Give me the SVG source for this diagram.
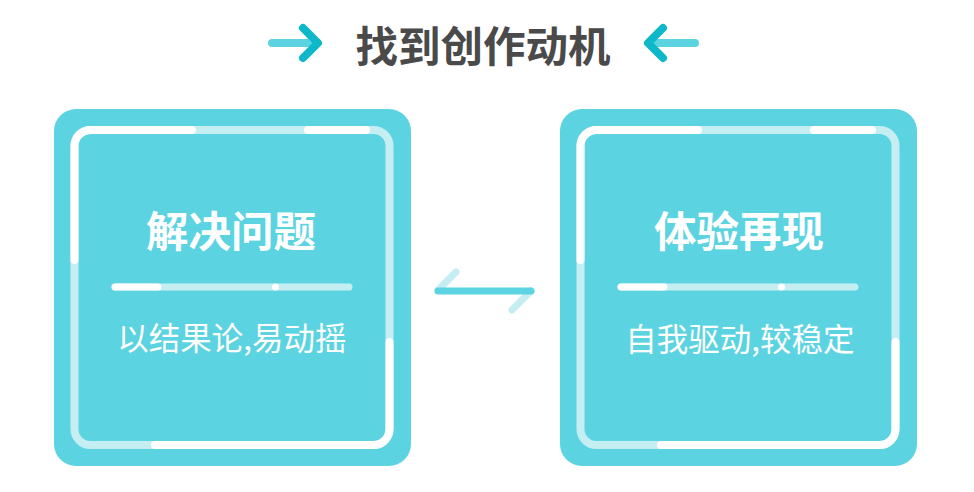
<svg xmlns="http://www.w3.org/2000/svg" width="974" height="492" viewBox="0 0 974 492">
<style>
.box{fill:#5cd3e1}
.ring{fill:none;stroke:#c5eef3;stroke-width:8}
.hi{fill:none;stroke:#ffffff;stroke-width:8;stroke-linecap:round;stroke-linejoin:round}
.dl{stroke:#c5eef3;stroke-width:7;stroke-linecap:round}
.dw{stroke:#ffffff;stroke-width:7;stroke-linecap:round}
.t{font-family:"Noto Sans CJK SC","Noto Sans",sans-serif;fill:#ffffff;text-anchor:middle}
.h{font-size:42.5px;font-weight:bold}
.s{font-size:31.5px}
.title{font-family:"Noto Sans CJK SC","Noto Sans",sans-serif;font-size:42.5px;font-weight:bold;fill:#4a4a4a;text-anchor:middle}
.tail{stroke:#5cd3e1;stroke-width:8;stroke-linecap:round;fill:none}
.head{stroke:#0fb8c9;stroke-width:8;stroke-linecap:round;stroke-linejoin:round;fill:none}
</style>
<g id="header">
<line class="tail" x1="272" y1="43" x2="312" y2="43"/>
<polyline class="head" points="303,28 318,43 303,58"/>
<text class="title" x="483" y="62">找到创作动机</text>
<line class="tail" x1="655" y1="43" x2="695" y2="43"/>
<polyline class="head" points="663,28 648,43 663,58"/>
</g>
<g id="node-left">
<rect class="box" x="54" y="109" width="357" height="357" rx="22"/>
<rect class="ring" x="74.5" y="130" width="315" height="315" rx="16"/>
<path class="hi" d="M74.5,260 V146 A16,16 0 0 1 90.5,130 H192"/>
<path class="hi" d="M308,130 H366"/>
<path class="hi" d="M389.5,342 V429 A16,16 0 0 1 373.5,445 H155"/>
<text class="t h" x="231" y="247">解决问题</text>
<line class="dl" x1="115" y1="287" x2="349" y2="287"/>
<line class="dw" x1="115" y1="287" x2="158" y2="287"/>
<circle cx="275.5" cy="287" r="3.5" fill="#ffffff"/>
<text class="t s" x="232" y="350">以结果论,易动摇</text>
</g>
<g id="node-right" transform="translate(506,0)">
<rect class="box" x="54" y="109" width="357" height="357" rx="22"/>
<rect class="ring" x="74.5" y="130" width="315" height="315" rx="16"/>
<path class="hi" d="M74.5,260 V146 A16,16 0 0 1 90.5,130 H192"/>
<path class="hi" d="M308,130 H366"/>
<path class="hi" d="M389.5,342 V429 A16,16 0 0 1 373.5,445 H155"/>
<text class="t h" x="233" y="247">体验再现</text>
<line class="dl" x1="115" y1="287" x2="349" y2="287"/>
<line class="dw" x1="115" y1="287" x2="158" y2="287"/>
<circle cx="275.5" cy="287" r="3.5" fill="#ffffff"/>
<text class="t s" x="234" y="351">自我驱动,较稳定</text>
</g>
<g id="connectors">
<line x1="456" y1="272" x2="438" y2="290" stroke="#c5eef3" stroke-width="7" stroke-linecap="round"/>
<line x1="531" y1="291" x2="512" y2="310" stroke="#c5eef3" stroke-width="7" stroke-linecap="round"/>
<line x1="438" y1="291" x2="531" y2="291" stroke="#5cd3e1" stroke-width="7" stroke-linecap="round"/>
</g>
</svg>
